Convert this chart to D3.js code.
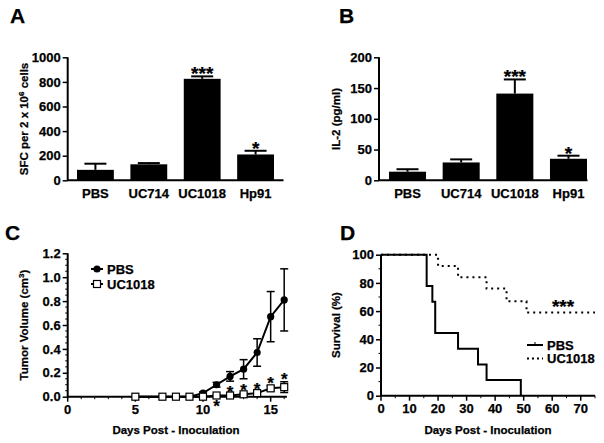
<!DOCTYPE html>
<html><head><meta charset="utf-8">
<script src="https://cdn.jsdelivr.net/npm/d3@7"></script>
<style>
body{margin:0;background:#fff;}
svg text{font-family:"Liberation Sans",Arial,sans-serif;font-weight:bold;fill:#000;stroke:#000;stroke-width:0.25px;}
</style></head>
<body><svg id="c" width="604" height="443"></svg>
<script>
// ---- Data ----
const barCategories = ["PBS","UC714","UC1018","Hp91"];
const sfcValues = [85,130,825,210];
const sfcErrors = [50,10,20,30];
const sfcStars = ["","","***","*"];
const il2Values = [14,29,141,35];
const il2Errors = [4,5,23,5];
const il2Stars = ["","","***","*"];

const tumorDays = [5,7,8,9,10,11,12,13,14,15,16];
const tumorPBS = [0,0,0,0,0.03,0.10,0.17,0.23,0.37,0.67,0.81];
const tumorPBSErr = [0,0,0,0,0.01,0.02,0.04,0.08,0.115,0.21,0.26];
const tumorUC = [0,0,0,0,0,0.01,0.01,0.02,0.03,0.07,0.08];
const tumorUCErr = [0,0,0,0,0,0.005,0.005,0.01,0.01,0.02,0.045];
const tumorStarDays = [11,12,13,14,15,16];

const survPBSDays = [0,16,18,19,27,34,37,49];
const survPBS = [100,77.8,66.7,44.4,33.3,22.2,11.1,0];
const survUCDays = [0,20,27,37,44,51,75];
const survUC = [100,92,84,76,67,59,59];

const aTicks = [0,200,400,600,800,1000];
const bTicks = [0,50,100,150,200];
const cYTicks = [0,0.2,0.4,0.6,0.8,1.0,1.2];
const cXTicks = [0,5,10,15];
const dYTicks = [0,20,40,60,80,100];
const dXTicks = [0,10,20,30,40,50,60,70];

const svg = d3.select("#c");
const LW = 2;
const FS = "13px";

function yAxis(g, scale, ticks, fmt, x, minorTicks){
  const ax = g.append("g").attr("transform",`translate(${x},0)`)
    .call(d3.axisLeft(scale).tickValues(ticks).tickFormat(fmt).tickSize(5).tickPadding(2));
  ax.select(".domain").remove();
  ax.selectAll("line").attr("stroke","#000").attr("stroke-width",1.5);
  ax.selectAll("text").style("font-size",FS).attr("font-family",null);
  if(minorTicks){
    g.selectAll(null).data(minorTicks).enter().append("line")
      .attr("x1",x-2.5).attr("x2",x).attr("y1",d=>scale(d)).attr("y2",d=>scale(d))
      .attr("stroke","#000").attr("stroke-width",1);
  }
  g.append("line").attr("x1",x).attr("x2",x)
    .attr("y1",scale.range()[0]+0.75).attr("y2",scale.range()[1]).attr("stroke","#000").attr("stroke-width",LW);
}

function letter(t,x,y){
  svg.append("text").attr("x",x).attr("y",y).text(t).style("font-size","21px");
}
function ylabel(g,t,x,y){
  return g.append("text").attr("transform",`translate(${x},${y}) rotate(-90)`).attr("text-anchor","middle").style("font-size","11.5px").text(t);
}

// ---- Bar panels ----
function barPanel(opts){
  const g = svg.append("g");
  const y = d3.scaleLinear().domain([0,opts.ymax]).range([180.3,57.3]);
  const x = d3.scaleBand().domain(barCategories).range(opts.xr).paddingInner(0.31).paddingOuter(0);
  const half = 11;
  barCategories.forEach((c,i)=>{
    const cx = x(c)+x.bandwidth()/2;
    const top = y(opts.vals[i]+opts.errs[i]);
    g.append("line").attr("x1",cx).attr("x2",cx).attr("y1",y(opts.vals[i])).attr("y2",top).attr("stroke","#000").attr("stroke-width",LW);
    g.append("line").attr("x1",cx-half).attr("x2",cx+half).attr("y1",top).attr("y2",top).attr("stroke","#000").attr("stroke-width",LW);
    if(opts.stars[i]) g.append("text").attr("x",cx).attr("y",top+4).attr("text-anchor","middle").style("font-size","19px").text(opts.stars[i]);
  });
  g.selectAll("rect").data(opts.vals).enter().append("rect")
    .attr("x",(d,i)=>x(barCategories[i])).attr("width",x.bandwidth())
    .attr("y",d=>y(d)).attr("height",d=>y(0)-y(d)).attr("fill","#000");
  yAxis(g,y,opts.ticks,d3.format("d"),opts.ax);
  g.append("line").attr("x1",opts.ax).attr("x2",opts.xend).attr("y1",y(0)).attr("y2",y(0)).attr("stroke","#000").attr("stroke-width",LW);
  g.selectAll(".cat").data(barCategories).enter().append("text")
    .attr("x",d=>x(d)+x.bandwidth()/2).attr("y",198).attr("text-anchor","middle").style("font-size",FS).text(d=>d);
  return g;
}

const gA = barPanel({ymax:1000,xr:[77,274],ax:67.7,xend:283.5,vals:sfcValues,errs:sfcErrors,stars:sfcStars,ticks:aTicks});
const la = gA.append("text").attr("transform","translate(28,119) rotate(-90)").attr("text-anchor","middle").style("font-size","11.5px");
la.append("tspan").text("SFC per 2 x 10");
la.append("tspan").attr("dy",-4).style("font-size","8px").text("6");
la.append("tspan").attr("dy",4).text(" cells");
letter("A",10,23);

const gB = barPanel({ymax:200,xr:[389,587],ax:379,xend:587.5,vals:il2Values,errs:il2Errors,stars:il2Stars,ticks:bTicks});
ylabel(gB,"IL-2 (pg/ml)",340,119);
letter("B",339,23);

// ---- Panel C ----
{
  const g = svg.append("g");
  const x = d3.scaleLinear().domain([0,16.2]).range([67.7,286.9]);
  const y = d3.scaleLinear().domain([0,1.2]).range([396.7,253.3]);
  const minorY = d3.range(0,1.2001,0.05).filter(v=>Math.abs(Math.round(v*5)-v*5)>1e-6);
  yAxis(g,y,cYTicks,d3.format(".1f"),67.7,minorY);
  g.append("line").attr("x1",67.7).attr("x2",286.9).attr("y1",y(0)).attr("y2",y(0)).attr("stroke","#000").attr("stroke-width",LW);
  g.selectAll(".mx").data(d3.range(0,17)).enter().append("line")
    .attr("x1",d=>x(d)).attr("x2",d=>x(d)).attr("y1",y(0)).attr("y2",d=>y(0)+(d%5===0?5:2.5))
    .attr("stroke","#000").attr("stroke-width",d=>d%5===0?1.5:1);
  g.selectAll(".xl").data(cXTicks).enter().append("text")
    .attr("x",d=>x(d)).attr("y",414).attr("text-anchor","middle").style("font-size",FS).text(d=>d);
  g.append("text").attr("x",176).attr("y",434).attr("text-anchor","middle").style("font-size","11.5px").text("Days Post - Inoculation");
  const yl = g.append("text").attr("transform","translate(28,325) rotate(-90)").attr("text-anchor","middle").style("font-size","11.5px");
  yl.append("tspan").text("Tumor Volume (cm");
  yl.append("tspan").attr("dy",-4).style("font-size","8px").text("3");
  yl.append("tspan").attr("dy",4).text(")");

  function series(vals,errs,marker){
    const line = d3.line().x((d,i)=>x(tumorDays[i])).y(d=>y(d));
    g.append("path").datum(vals).attr("d",line).attr("fill","none").attr("stroke","#000").attr("stroke-width",LW);
    vals.forEach((v,i)=>{
      if(errs[i]>0.002){
        const cx=x(tumorDays[i]);
        g.append("line").attr("x1",cx).attr("x2",cx).attr("y1",y(v-errs[i])).attr("y2",y(v+errs[i])).attr("stroke","#000").attr("stroke-width",1.5);
        [v-errs[i],v+errs[i]].forEach(e=>g.append("line").attr("x1",cx-4).attr("x2",cx+4).attr("y1",y(e)).attr("y2",y(e)).attr("stroke","#000").attr("stroke-width",1.5));
      }
    });
    vals.forEach((v,i)=>marker(g,x(tumorDays[i]),y(v)));
  }
  const circ=(g,cx,cy)=>g.append("circle").attr("cx",cx).attr("cy",cy).attr("r",3.6).attr("fill","#000");
  const sq=(g,cx,cy)=>g.append("rect").attr("x",cx-3.5).attr("y",cy-3.5).attr("width",7).attr("height",7).attr("fill","#fff").attr("stroke","#000").attr("stroke-width",1.2);
  series(tumorPBS,tumorPBSErr,circ);
  series(tumorUC,tumorUCErr,sq);
  tumorStarDays.forEach(d=>{
    const i = tumorDays.indexOf(d);
    const cx = x(d);
    if(d===11){
      g.append("text").attr("x",cx).attr("y",412).attr("text-anchor","middle").style("font-size","17px").text("*");
    } else {
      const top = y(tumorUC[i]+tumorUCErr[i]);
      g.append("text").attr("x",cx).attr("y",top+3).attr("text-anchor","middle").style("font-size","17px").text("*");
    }
  });
  g.append("line").attr("x1",91).attr("x2",103).attr("y1",269).attr("y2",269).attr("stroke","#000").attr("stroke-width",LW);
  circ(g,97,269);
  g.append("text").attr("x",107).attr("y",273.5).style("font-size",FS).text("PBS");
  g.append("line").attr("x1",91).attr("x2",103).attr("y1",284).attr("y2",284).attr("stroke","#000").attr("stroke-width",LW);
  sq(g,97,284);
  g.append("text").attr("x",107).attr("y",288.5).style("font-size",FS).text("UC1018");
  letter("C",5,240);
}

// ---- Panel D ----
{
  const g = svg.append("g");
  const x = d3.scaleLinear().domain([0,75]).range([381,595]);
  const y = d3.scaleLinear().domain([0,100]).range([395.7,254.7]);
  yAxis(g,y,dYTicks,d3.format("d"),381,[10,30,50,70,90]);
  g.append("line").attr("x1",381).attr("x2",595).attr("y1",y(0)).attr("y2",y(0)).attr("stroke","#000").attr("stroke-width",LW);
  g.selectAll(".mx").data(d3.range(0,76,5)).enter().append("line")
    .attr("x1",d=>x(d)).attr("x2",d=>x(d)).attr("y1",y(0)).attr("y2",d=>y(0)+(d%10===0?5:2.5))
    .attr("stroke","#000").attr("stroke-width",d=>d%10===0?1.5:1);
  g.selectAll(".xl").data(dXTicks).enter().append("text")
    .attr("x",d=>x(d)).attr("y",413).attr("text-anchor","middle").style("font-size",FS).text(d=>d);
  g.append("text").attr("x",488).attr("y",434).attr("text-anchor","middle").style("font-size","11.5px").text("Days Post - Inoculation");
  ylabel(g,"Survival (%)",340,325);
  const step = (t)=>d3.line().x((d,i)=>x(t[i])).y(d=>y(d)).curve(d3.curveStepAfter);
  g.append("path").datum(survUC).attr("d",step(survUCDays)).attr("fill","none").attr("stroke","#000").attr("stroke-width",2).attr("stroke-dasharray","2,4");
  g.append("path").datum(survPBS).attr("d",step(survPBSDays)).attr("fill","none").attr("stroke","#000").attr("stroke-width",LW);
  g.append("text").attr("x",563).attr("y",313).attr("text-anchor","middle").style("font-size","19px").text("***");
  g.append("line").attr("x1",527).attr("x2",543).attr("y1",345).attr("y2",345).attr("stroke","#000").attr("stroke-width",LW);
  g.append("line").attr("x1",535).attr("x2",535).attr("y1",345).attr("y2",342).attr("stroke","#000").attr("stroke-width",1);
  g.append("text").attr("x",547).attr("y",349.5).style("font-size",FS).text("PBS");
  g.append("line").attr("x1",527).attr("x2",543).attr("y1",358.5).attr("y2",358.5).attr("stroke","#000").attr("stroke-width",2).attr("stroke-dasharray","2,3");
  g.append("text").attr("x",547).attr("y",363).style("font-size",FS).text("UC1018");
  letter("D",340,240);
}
</script></body></html>
